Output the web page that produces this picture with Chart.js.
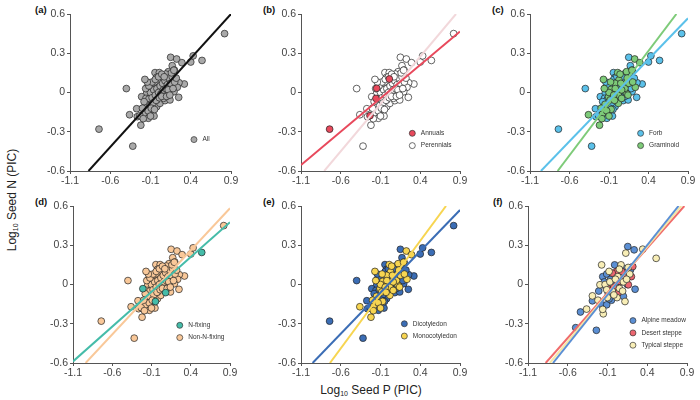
<!DOCTYPE html>
<html>
<head>
<meta charset="utf-8">
<script src="https://cdn.jsdelivr.net/npm/chart.js@4.4.1/dist/chart.umd.min.js"></script>
<style>
  body { margin: 0; width: 700px; height: 400px; position: relative; background: #fff; overflow: hidden;
         font-family: "Liberation Sans", Arial, sans-serif; }
  canvas { position: absolute; }
  .tag { position: absolute; font-size: 9.5px; font-weight: bold; color: #111; line-height: 1; }
  .title { position: absolute; font-size: 12px; color: #222; white-space: nowrap; line-height: 1; }
  .title sub { font-size: 7px; vertical-align: -2px; }
</style>
</head>
<body>
<div class="tag" style="left:35px;top:5px">(a)</div>
<div class="tag" style="left:263px;top:5px">(b)</div>
<div class="tag" style="left:492px;top:5px">(c)</div>
<div class="tag" style="left:35px;top:197px">(d)</div>
<div class="tag" style="left:263px;top:197px">(e)</div>
<div class="tag" style="left:493px;top:197px">(f)</div>
<div class="title" style="left:12px;top:200px;transform:translate(-50%,-50%) rotate(-90deg)">Log<sub>10</sub> Seed N (PIC)</div>
<div class="title" style="left:371px;top:390px;transform:translate(-50%,-50%)">Log<sub>10</sub> Seed P (PIC)</div>

<script>
// axis ticks shared by all six panels
var xTicks = [-1.1, -0.6, -0.1, 0.4, 0.9];
var yTicks = [-0.6, -0.3, 0, 0.3, 0.6];

// species PICs for panels (a)-(e)
var seedP = [
  -0.74, -0.40, -0.36, -0.32, 0.82, 0.54, 0.40, 0.43,
  0.32, 0.25, 0.15, 0.225, 0.29, 0.17, 0.196, 0.122,
  0.088, -0.044, 0.01, 0.059, 0.142, -0.023, 0.026, -0.085,
  -0.023, -0.148, -0.073, -0.003, 0.08, 0.163, 0.254, 0.233,
  0.192, 0.122, 0.06, 0.018, -0.044, -0.106, -0.148, -0.21,
  -0.272, -0.264, -0.181, -0.127, -0.056, -0.073, -0.023, 0.018,
  0.08, 0.142, 0.06, -0.127, -0.085, -0.168, -0.023, 0.101,
  0.011, -0.157, -0.232, -0.22, -0.10, -0.06, -0.02, 0.02,
  0.05, 0.08, 0.11, 0.13, -0.12, -0.08, -0.04, 0.00,
  0.03, 0.06, 0.09, 0.12, 0.15, 0.17, -0.15, -0.11,
  -0.07, -0.03, 0.01, 0.04, -0.13, -0.09, -0.05, -0.18,
  -0.16, -0.12, -0.08, -0.04, 0.00, 0.04, 0.07, 0.10,
  0.14, 0.18, 0.20, 0.22, -0.20, -0.14, -0.19, -0.10,
  0.16, 0.19, -0.17
];
var seedN = [
  -0.28, 0.03, -0.17, -0.41, 0.45, 0.245, 0.233, 0.28,
  0.065, -0.037, 0.269, 0.256, 0.228, 0.205, 0.172, 0.159,
  0.141, 0.152, 0.152, 0.121, 0.096, 0.116, 0.096, 0.057,
  0.07, 0.032, 0.024, 0.04, 0.057, 0.05, 0.075, 0.04,
  0.006, -0.006, 0.014, -0.019, -0.006, -0.032, -0.006, -0.032,
  -0.124, -0.185, -0.159, -0.197, -0.18, -0.129, -0.108, -0.083,
  -0.062, -0.057, -0.045, -0.083, -0.057, -0.113, -0.057, 0.032,
  0.103, -0.045, -0.177, -0.25, 0.00, 0.02, 0.03, 0.05,
  0.07, 0.09, 0.06, 0.11, -0.05, -0.04, -0.02, 0.00,
  -0.01, 0.02, 0.03, 0.02, 0.07, 0.12, -0.09, -0.10,
  -0.08, -0.06, -0.04, -0.03, -0.14, -0.12, -0.13, -0.07,
  0.03, 0.05, 0.08, 0.10, 0.12, 0.14, 0.12, -0.03,
  -0.02, 0.03, 0.08, 0.11, -0.12, 0.08, -0.20, -0.18,
  0.15, 0.17, 0.10
];
// per species: life cycle (A/P), growth form (F/G), N-fixing (N/O), cotyledon (D/M)
var traits = [
  'AFOD', 'PFOD', 'PGOM', 'PFOD', 'PFOD', 'PFND', 'PFOD', 'PFOD',
  'PFOD', 'PFOD', 'PFOD', 'PGOM', 'PGOM', 'PFOD', 'PFOD', 'PGOM',
  'PFOD', 'PFOD', 'PGOM', 'PFOD', 'PGOM', 'PFOD', 'PGOM', 'PFOD',
  'PGOM', 'AFOD', 'PGOM', 'PFOD', 'PGOM', 'PFOD', 'PFOD', 'PGOM',
  'PFOD', 'PGOM', 'PFOD', 'PGOM', 'PFOD', 'PGOM', 'PFOD', 'PFND',
  'PFOD', 'PFOD', 'PGOM', 'PFOD', 'PFOD', 'PGOM', 'PFOD', 'PGOM',
  'PFND', 'PFOD', 'PGOM', 'PFOD', 'PGOM', 'PFOD', 'PFOD', 'PGOM',
  'AFOD', 'AFOD', 'AFOD', 'PGOM', 'PGOM', 'PFOD', 'PGOM', 'PFOD',
  'PGOM', 'PFOD', 'PFOD', 'PGOM', 'PFOD', 'PFOD', 'PGOM', 'PFOD',
  'PFOD', 'PGOM', 'PFOD', 'PFOD', 'PGOM', 'PFOD', 'PGOM', 'PFOD',
  'PFOD', 'PGOM', 'PFOD', 'PFOD', 'PGOM', 'PFOD', 'PFND', 'PFOD',
  'PGOM', 'PFOD', 'PGOM', 'PFOD', 'PFOD', 'PGOM', 'PFOD', 'PFOD',
  'PGOM', 'PFOD', 'PGOM', 'PFOD', 'PGOM', 'PFOD', 'PGOM', 'PGOM',
  'PFOD', 'PGOM', 'PGOM'
];

// grassland PICs for panel (f)
var meadowP = [-0.50, -0.44, -0.24, -0.29, -0.17, -0.16, -0.11, -0.01, 0.155, 0.235, 0.19, 0.247, 0.05, 0.01, -0.11, -0.05,
  -0.09, 0.00, -0.14, -0.12, 0.06, 0.13, 0.10, -0.06, 0.03, -0.21, 0.15, -0.03, 0.08, -0.08, 0.11];
var meadowN = [-0.33, -0.21, -0.35, -0.125, -0.155, 0.06, 0.08, 0.15, 0.29, 0.265, 0.112, -0.036, -0.05, -0.09, -0.155, -0.12,
  -0.07, 0.00, 0.02, -0.02, 0.08, 0.06, -0.09, 0.04, 0.03, -0.05, 0.00, -0.03, 0.02, -0.11, 0.12];
var desertP = [0.015, 0.218, 0.162, 0.057, -0.04, 0.12, -0.02, 0.08, -0.10, 0.20, 0.04];
var desertN = [0.10, 0.137, -0.002, 0.023, 0.087, 0.05, -0.02, 0.10, -0.03, 0.06, -0.06];
var typicalP = [-0.174, 0.512, 0.343, 0.13, 0.12, -0.29, -0.363, -0.153, -0.16, -0.195, -0.10, 0.03, -0.04, 0.10, 0.18,
  -0.13, 0.05, -0.07, 0.02, 0.16, -0.22, 0.07, -0.08, 0.00, -0.02, 0.09, -0.11, 0.14, 0.049];
var typicalN = [0.15, 0.20, 0.27, 0.24, -0.13, -0.087, -0.188, -0.224, -0.19, -0.002, -0.10, 0.06, -0.05, 0.02, 0.08,
  0.00, -0.03, 0.02, -0.10, 0.13, -0.12, 0.15, 0.10, 0.04, -0.08, -0.05, -0.04, 0.04, 0.117];

// fitted lines [slope, intercept]
var fitAll = [0.678, -0.010];
var fitAnnual = [0.510, 0.007];
var fitPerennial = [0.724, -0.015];
var fitForb = [0.627, 0.003];
var fitGraminoid = [0.798, -0.001];
var fitNfix = [0.532, -0.003];
var fitNonNfix = [0.643, 0.004];
var fitDicot = [0.631, 0.002];
var fitMonocot = [0.822, 0.005];
var fitMeadow = [0.760, -0.003];
var fitDesert = [0.688, 0.004];
var fitTypical = [0.726, -0.001];

function speciesWith(pos, code) {
  var pts = [];
  for (var i = 0; i < seedP.length; i++) {
    if (traits[i].charAt(pos) === code) pts.push({ x: seedP[i], y: seedN[i] });
  }
  return pts;
}
function zip(xs, ys) {
  return xs.map(function (x, i) { return { x: x, y: ys[i] }; });
}

var FONT = '"Liberation Sans", Arial, sans-serif';

// draws the small in-plot legend
var plotLegend = {
  id: 'plotLegend',
  afterDatasetsDraw: function (chart, args, opts) {
    var ctx = chart.ctx, a = chart.chartArea;
    var x0 = a.left + opts.fx * (a.right - a.left);
    var y0 = a.top + opts.fy * (a.bottom - a.top);
    ctx.save();
    ctx.font = '6.5px ' + FONT;
    ctx.textBaseline = 'middle';
    opts.items.forEach(function (it, k) {
      var y = y0 + k * 12.3;
      ctx.beginPath();
      ctx.arc(x0, y, 3, 0, Math.PI * 2);
      ctx.fillStyle = it.color;
      ctx.fill();
      ctx.lineWidth = 0.7;
      ctx.strokeStyle = '#333';
      ctx.stroke();
      ctx.fillStyle = '#333';
      ctx.fillText(it.label, x0 + 8.5, y);
    });
    ctx.restore();
  }
};

function fitLine(fit, color) {
  var b = fit[0], a = fit[1];
  var xa = Math.max(xTicks[0], (yTicks[0] - a) / b);
  var xb = Math.min(xTicks[xTicks.length - 1], (yTicks[yTicks.length - 1] - a) / b);
  return {
    type: 'line',
    data: [{ x: xa, y: a + b * xa }, { x: xb, y: a + b * xb }],
    borderColor: color,
    borderWidth: 2,
    pointRadius: 0,
    fill: false
  };
}

function dots(label, pts, color) {
  return {
    type: 'scatter',
    label: label,
    data: pts,
    backgroundColor: color,
    borderColor: '#222',
    borderWidth: 0.7,
    pointRadius: 3.4
  };
}

function makePanel(box, lines, groups, legend) {
  var left = box[0], top = box[1], right = box[2], bottom = box[3];
  var canvas = document.createElement('canvas');
  var w = right - left + 52, h = bottom - top + 34;
  canvas.width = w;
  canvas.height = h;
  canvas.style.left = (left - 40) + 'px';
  canvas.style.top = (top - 10) + 'px';
  canvas.style.width = w + 'px';
  canvas.style.height = h + 'px';
  document.body.appendChild(canvas);

  var axisCommon = {
    type: 'linear',
    border: { color: '#555', width: 1 },
    grid: { drawOnChartArea: false, drawTicks: true, tickLength: 3, color: '#555', lineWidth: 1 },
    ticks: { color: '#444', font: { size: 10.5, family: FONT }, autoSkip: false, maxRotation: 0 }
  };

  return new Chart(canvas.getContext('2d'), {
    data: { datasets: lines.concat(groups) },
    plugins: [plotLegend],
    options: {
      responsive: false,
      animation: false,
      devicePixelRatio: 1,
      layout: { padding: { top: 10, right: 12, left: 0, bottom: 0 } },
      plugins: {
        legend: { display: false },
        tooltip: { enabled: false },
        plotLegend: legend
      },
      scales: {
        x: Object.assign({}, axisCommon, {
          min: xTicks[0], max: xTicks[xTicks.length - 1],
          afterBuildTicks: function (s) { s.ticks = xTicks.map(function (v) { return { value: v }; }); },
          afterFit: function (s) { s.height = 24; },
          ticks: Object.assign({}, axisCommon.ticks, { padding: 1, callback: function (v) { return v.toFixed(1); } })
        }),
        y: Object.assign({}, axisCommon, {
          min: yTicks[0], max: yTicks[yTicks.length - 1],
          afterBuildTicks: function (s) { s.ticks = yTicks.map(function (v) { return { value: v }; }); },
          afterFit: function (s) { s.width = 40; },
          ticks: Object.assign({}, axisCommon.ticks, { padding: 2, callback: function (v) { return v === 0 ? '0' : v.toFixed(1); } })
        })
      }
    }
  });
}

var C = {
  gray: '#a9a9a9', annual: '#e8495c', perennialLine: '#f2d8db',
  forb: '#5bc1ea', gram: '#7ecb79', nfix: '#45bca9', nonfix: '#f9c899',
  dicot: '#3b6db5', mono: '#f7d551', meadow: '#5b8fd4', desert: '#ec6670', typical: '#f8eeb6'
};

// (a) all species
makePanel([70, 14, 231, 171],
  [fitLine(fitAll, '#111')],
  [dots('All', zip(seedP, seedN), C.gray)],
  { fx: 0.77, fy: 0.80, items: [{ label: 'All', color: C.gray }] });

// (b) life cycle
makePanel([301, 14, 460, 171],
  [fitLine(fitAnnual, C.annual), fitLine(fitPerennial, C.perennialLine)],
  [dots('Annuals', speciesWith(0, 'A'), C.annual), dots('Perennials', speciesWith(0, 'P'), '#fff')],
  { fx: 0.70, fy: 0.76, items: [{ label: 'Annuals', color: C.annual }, { label: 'Perennials', color: '#fff' }] });

// (c) growth form
makePanel([530, 14, 688, 171],
  [fitLine(fitForb, C.forb), fitLine(fitGraminoid, C.gram)],
  [dots('Graminoid', speciesWith(1, 'G'), C.gram), dots('Forb', speciesWith(1, 'F'), C.forb)],
  { fx: 0.70, fy: 0.76, items: [{ label: 'Forb', color: C.forb }, { label: 'Graminoid', color: C.gram }] });

// (d) N fixation
makePanel([73, 206, 230, 363],
  [fitLine(fitNfix, C.nfix), fitLine(fitNonNfix, C.nonfix)],
  [dots('N-fixing', speciesWith(2, 'N'), C.nfix), dots('Non-N-fixing', speciesWith(2, 'O'), C.nonfix)],
  { fx: 0.68, fy: 0.76, items: [{ label: 'N-fixing', color: C.nfix }, { label: 'Non-N-fixing', color: C.nonfix }] });

// (e) cotyledon
makePanel([301, 206, 460, 363],
  [fitLine(fitDicot, C.dicot), fitLine(fitMonocot, C.mono)],
  [dots('Monocotyledon', speciesWith(3, 'M'), C.mono), dots('Dicotyledon', speciesWith(3, 'D'), C.dicot)],
  { fx: 0.65, fy: 0.75, items: [{ label: 'Dicotyledon', color: C.dicot }, { label: 'Monocotyledon', color: C.mono }] });

// (f) grassland type
makePanel([528, 206, 687, 363],
  [fitLine(fitMeadow, C.meadow), fitLine(fitTypical, '#f5e6a6'), fitLine(fitDesert, '#f06b6b')],
  [dots('Typical steppe', zip(typicalP, typicalN), C.typical), dots('Desert steppe', zip(desertP, desertN), C.desert),
   dots('Alpine meadow', zip(meadowP, meadowN), C.meadow)],
  { fx: 0.66, fy: 0.73, items: [{ label: 'Alpine meadow', color: C.meadow }, { label: 'Desert steppe', color: C.desert },
    { label: 'Typical steppe', color: C.typical }] });
</script>
</body>
</html>
